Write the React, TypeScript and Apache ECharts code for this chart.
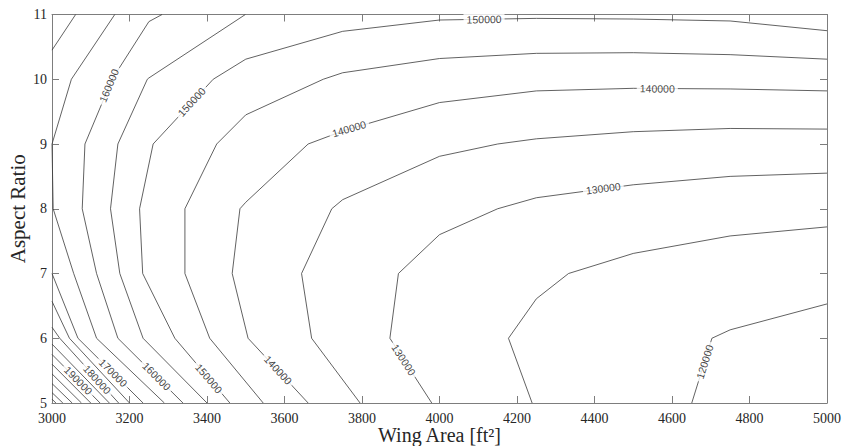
import React, { useEffect, useRef } from "react";
import * as echarts from "echarts";

// Contour polylines: [wing area ft^2, aspect ratio]
const c120 = [[4651, 5], [4703, 6], [4750, 6.13], [5000, 6.53]];
const c125 = [[4239, 5], [4178, 6], [4250, 6.61], [4333, 7], [4500, 7.31], [4750, 7.58], [5000, 7.72]];
const c130 = [[3980, 5], [3872, 6], [3894, 7], [4000, 7.6], [4150, 8], [4250, 8.17], [4500, 8.37], [4750, 8.5], [5000, 8.55]];
const c135 = [[3795, 5], [3670, 6], [3644, 7], [3722, 8], [3750, 8.14], [4000, 8.81], [4150, 9], [4250, 9.08], [4500, 9.19], [4750, 9.24], [5000, 9.23]];
const c140 = [[3661, 5], [3506, 6], [3465, 7], [3485, 8], [3500, 8.1], [3661, 9], [3750, 9.2], [4000, 9.64], [4250, 9.82], [4500, 9.86], [4750, 9.85], [5000, 9.82]];
const c145 = [[3545, 5], [3407, 6], [3343, 7], [3343, 8], [3425, 9], [3500, 9.45], [3700, 10], [3750, 10.1], [4000, 10.32], [4250, 10.4], [4500, 10.41], [4750, 10.38], [5000, 10.31]];
const c150 = [[3459, 5], [3317, 6], [3234, 7], [3226, 8], [3261, 9], [3416, 10], [3500, 10.31], [3750, 10.74], [4000, 10.915], [4250, 10.94], [4500, 10.93], [4750, 10.9], [5000, 10.75]];
const c155 = [[3400, 5], [3235, 6], [3175, 7], [3151, 8], [3170, 9], [3246, 10], [3250, 10.02], [3499, 11]];
const c160 = [[3338, 5], [3170, 6], [3115, 7], [3078, 8], [3085, 9], [3155, 10], [3250, 10.89], [3284, 11]];
const c165 = [[3290, 5], [3115, 6], [3056, 7], [3003, 8], [3000, 9], [3050, 10], [3162, 11]];
const c170a = [[3000, 10.45], [3061, 11]];
const c170b = [[3000, 7], [3067, 6], [3235, 5]];
const c175 = [[3000, 6.57], [3045, 6], [3200, 5]];
const c180 = [[3000, 6.17], [3020, 6], [3172, 5]];
const c185 = [[3000, 5.91], [3148, 5]];
const c190 = [[3000, 5.75], [3124, 5]];
const c195 = [[3000, 5.6], [3100, 5]];
const c200 = [[3000, 5.45], [3076, 5]];
const c205 = [[3000, 5.3], [3052, 5]];
const c210 = [[3000, 5.16], [3028, 5]];
const c215 = [[3000, 5.06], [3010, 5]];

const contourLevels = [120000, 125000, 130000, 135000, 140000, 145000, 150000, 155000, 160000, 165000, 170000, 170000, 175000, 180000, 185000, 190000, 195000, 200000, 205000, 210000, 215000];
const contourLines = [c120, c125, c130, c135, c140, c145, c150, c155, c160, c165, c170a, c170b, c175, c180, c185, c190, c195, c200, c205, c210, c215];

// Inline labels: level and approximate position
const labelLevels = [190000, 180000, 170000, 160000, 150000, 140000, 130000, 120000, 160000, 150000, 140000, 150000, 140000, 130000];
const labelPoints = [[3067, 5.34], [3118, 5.37], [3160, 5.48], [3268, 5.4], [3405, 5.38], [3580, 5.49], [3906, 5.66], [4688, 5.63], [3144, 9.91], [3364, 9.63], [3765, 9.27], [4115, 10.93], [4562, 9.85], [4423, 8.3]];

const xTicks = { min: 3000, max: 5000, interval: 200 };
const yTicks = { min: 5, max: 11, interval: 1 };

const BOX = "#7d7d7d";
const TXT = "#262626";
const LINE = "#3a3a3a";
const SERIF = "Liberation Serif";

export default function App() {
  const ref = useRef<HTMLDivElement>(null);
  useEffect(() => {
    const chart = echarts.init(ref.current!, null, { renderer: "svg" });
    const axisCommon = {
      type: "value" as const,
      axisLine: { show: true, onZero: false, lineStyle: { color: BOX, width: 1 } },
      axisTick: { show: true, inside: true, length: 7, lineStyle: { color: BOX, width: 1 } },
      splitLine: { show: false },
    };
    const lineSeries = contourLines.map((pts, i) => ({
      type: "line",
      name: String(contourLevels[i]),
      data: pts,
      showSymbol: false,
      symbol: "none",
      silent: true,
      lineStyle: { color: LINE, width: 0.8 },
      z: 2,
    }));
    chart.setOption({
      animation: false,
      grid: { left: 52, right: 15, top: 14.5, bottom: 43, containLabel: false, outerBoundsMode: "none" },
      xAxis: [
        {
          ...axisCommon,
          ...xTicks,
          position: "bottom",
          axisLabel: { color: TXT, fontFamily: SERIF, fontSize: 14, margin: 8, formatter: (v: number) => String(v) },
          name: "Wing Area [ft²]",
          nameLocation: "middle",
          nameGap: 22,
          nameMoveOverlap: false,
          nameTextStyle: { color: TXT, fontFamily: SERIF, fontSize: 20 },
        },
        { ...axisCommon, ...xTicks, position: "top", axisLabel: { show: false } },
      ],
      yAxis: [
        {
          ...axisCommon,
          ...yTicks,
          position: "left",
          axisLabel: { color: TXT, fontFamily: SERIF, fontSize: 14, margin: 5, formatter: (v: number) => String(v) },
          name: "Aspect Ratio",
          nameLocation: "middle",
          nameGap: 24,
          nameMoveOverlap: false,
          nameRotate: 90,
          nameTextStyle: { color: TXT, fontFamily: SERIF, fontSize: 21 },
        },
        { ...axisCommon, ...yTicks, position: "right", axisLabel: { show: false } },
      ],
      series: lineSeries,
    });

    const toPx = (p: number[]) => chart.convertToPixel({ gridIndex: 0 }, p) as number[];
    const labelData = labelPoints.map((lp, i) => {
      const lvl = labelLevels[i];
      const P = toPx(lp);
      let best = { d: Infinity, q: P, ang: 0 };
      contourLines.forEach((pts, j) => {
        if (contourLevels[j] !== lvl) return;
        for (let k = 0; k < pts.length - 1; k++) {
          const A = toPx(pts[k]);
          const B = toPx(pts[k + 1]);
          const dx = B[0] - A[0];
          const dy = B[1] - A[1];
          const L2 = dx * dx + dy * dy || 1;
          let t = ((P[0] - A[0]) * dx + (P[1] - A[1]) * dy) / L2;
          t = Math.max(0, Math.min(1, t));
          const q = [A[0] + t * dx, A[1] + t * dy];
          const d = Math.hypot(P[0] - q[0], P[1] - q[1]);
          if (d < best.d) {
            let ang = (-Math.atan2(dy, dx) * 180) / Math.PI;
            if (ang > 90) ang -= 180;
            if (ang < -90) ang += 180;
            best = { d, q, ang };
          }
        }
      });
      const v = chart.convertFromPixel({ gridIndex: 0 }, best.q) as number[];
      return {
        value: v,
        label: { rotate: best.ang, formatter: String(lvl) },
      };
    });

    chart.setOption({
      series: [
        ...lineSeries,
        {
          type: "scatter",
          data: labelData,
          symbol: "circle",
          symbolSize: 0,
          silent: true,
          z: 5,
          label: {
            show: true,
            position: "inside",
            color: "#111",
            fontFamily: "Liberation Sans",
            fontSize: 10.5,
            backgroundColor: "#fff",
            padding: [0, 3],
          },
        },
      ],
    });
    return () => chart.dispose();
  }, []);
  return <div ref={ref} style={{ position: "absolute", left: 0, top: 0, width: 842, height: 446 }} />;
}
